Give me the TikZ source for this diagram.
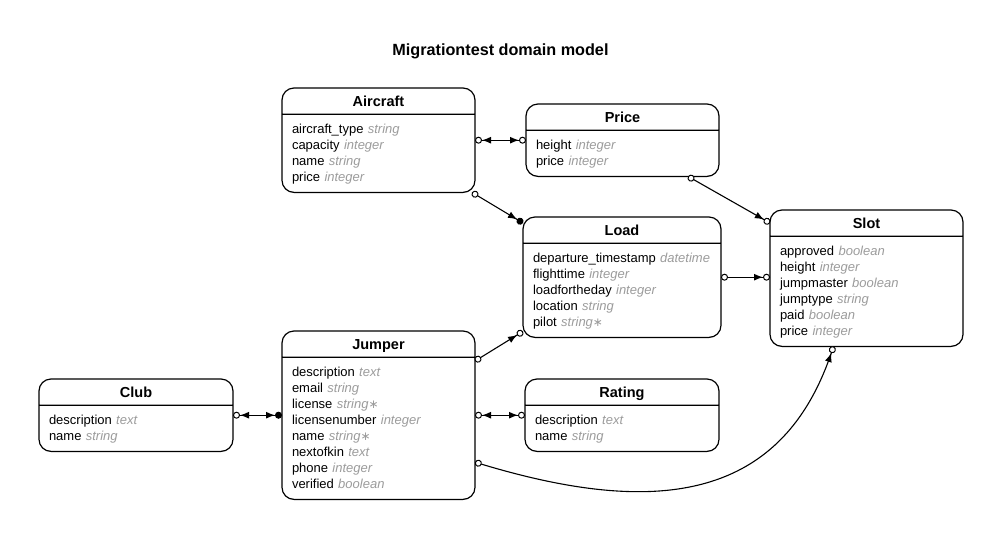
\documentclass[tikz,border=0pt]{standalone}
\usepackage{fontspec}
\setmainfont{Liberation Sans}
\newfontfamily\symfont{DejaVu Sans}
\usetikzlibrary{arrows.meta,shapes.multipart}
\setlength{\parindent}{0pt}
\definecolor{typegray}{HTML}{9C9C9C}
\newcommand{\ty}[1]{{\color{typegray}\itshape #1}}
\newcommand{\req}{{\symfont\fontsize{12}{16}\selectfont ∗}}
\newcommand{\firstrow}{\rule{0pt}{18.5pt}}
\newcommand{\lastrow}{\rule[-10.5pt]{0pt}{10.5pt}}
\newcommand{\head}[1]{\makebox[\linewidth][c]{\rule[-7.5pt]{0pt}{25pt}\fontsize{14.5}{16}\selectfont\bfseries #1}}

\begin{document}
\begin{tikzpicture}[x=1pt,y=-1pt,
    entity/.style={rectangle split, rectangle split parts=2, draw, line width=1.2pt,
        rounded corners=12pt, inner xsep=10pt, inner ysep=0pt, outer sep=0pt, align=left,
        anchor=north west, font=\fontsize{13}{16}\selectfont},
    rel/.style={line width=1.1pt},
    o/.tip={Circle[open,length=7pt,line width=1pt,fill=white]},
    c/.tip={Circle[length=7pt]},
    t/.tip={Latex[length=9pt,width=7pt]}]
    \useasboundingbox (0,0) rectangle (1002,539);
    \fill[white] (0,0) rectangle (1002,539);

    \node[font=\fontsize{16.2}{18}\selectfont\bfseries] (title) at (500.5,51) {Migrationtest domain model};

    \node[entity, text width=173pt] (aircraft) at (282,88) {\head{Aircraft}
        \nodepart{two}\firstrow aircraft\_type \ty{string}\\
        capacity \ty{integer}\\
        name \ty{string}\\
        price \ty{integer}\lastrow};
    \node[entity, text width=173pt] (price) at (526,104) {\head{Price}
        \nodepart{two}\firstrow height \ty{integer}\\
        price \ty{integer}\lastrow};
    \node[entity, text width=178pt] (load) at (523,217) {\head{Load}
        \nodepart{two}\firstrow departure\_timestamp \ty{datetime}\\
        flighttime \ty{integer}\\
        loadfortheday \ty{integer}\\
        location \ty{string}\\
        pilot \ty{string\req}\lastrow};
    \node[entity, text width=173pt] (slot) at (770,210) {\head{Slot}
        \nodepart{two}\firstrow approved \ty{boolean}\\
        height \ty{integer}\\
        jumpmaster \ty{boolean}\\
        jumptype \ty{string}\\
        paid \ty{boolean}\\
        price \ty{integer}\lastrow};
    \node[entity, text width=173pt] (jumper) at (282,331) {\head{Jumper}
        \nodepart{two}\firstrow description \ty{text}\\
        email \ty{string}\\
        license \ty{string\req}\\
        licensenumber \ty{integer}\\
        name \ty{string\req}\\
        nextofkin \ty{text}\\
        phone \ty{integer}\\
        verified \ty{boolean}\lastrow};
    \node[entity, text width=174pt] (club) at (39,379) {\head{Club}
        \nodepart{two}\firstrow description \ty{text}\\
        name \ty{string}\lastrow};
    \node[entity, text width=174pt] (rating) at (525,379) {\head{Rating}
        \nodepart{two}\firstrow description \ty{text}\\
        name \ty{string}\lastrow};

    \draw[rel, {o t}-{t o}] (aircraft.east |- price.west) -- (price.west);
    \draw[rel, {o}-{t c}] ([xshift=-3pt]aircraft.south east) -- ([yshift=-6pt]load.north west);
    \draw[rel, {o}-{t o}] ([xshift=-31pt]price.south east) -- ([yshift=-13pt]slot.north west);
    \draw[rel, {o}-{t o}] (load.east) -- (load.east -| slot.west);
    \draw[rel, {o}-{t o}] ([yshift=-30pt]jumper.north east) -- ([yshift=6pt]load.south west);
    \draw[rel, {o t}-{t c}] (club.east) -- (club.east -| jumper.west);
    \draw[rel, {o t}-{t o}] (jumper.east) -- (jumper.east -| rating.west);
    \draw[rel, {o}-{t o}] ([yshift=-47pt]jumper.east) .. controls (650,515) and (780,505) .. ([xshift=-33pt]slot.south);
\end{tikzpicture}
\end{document}
